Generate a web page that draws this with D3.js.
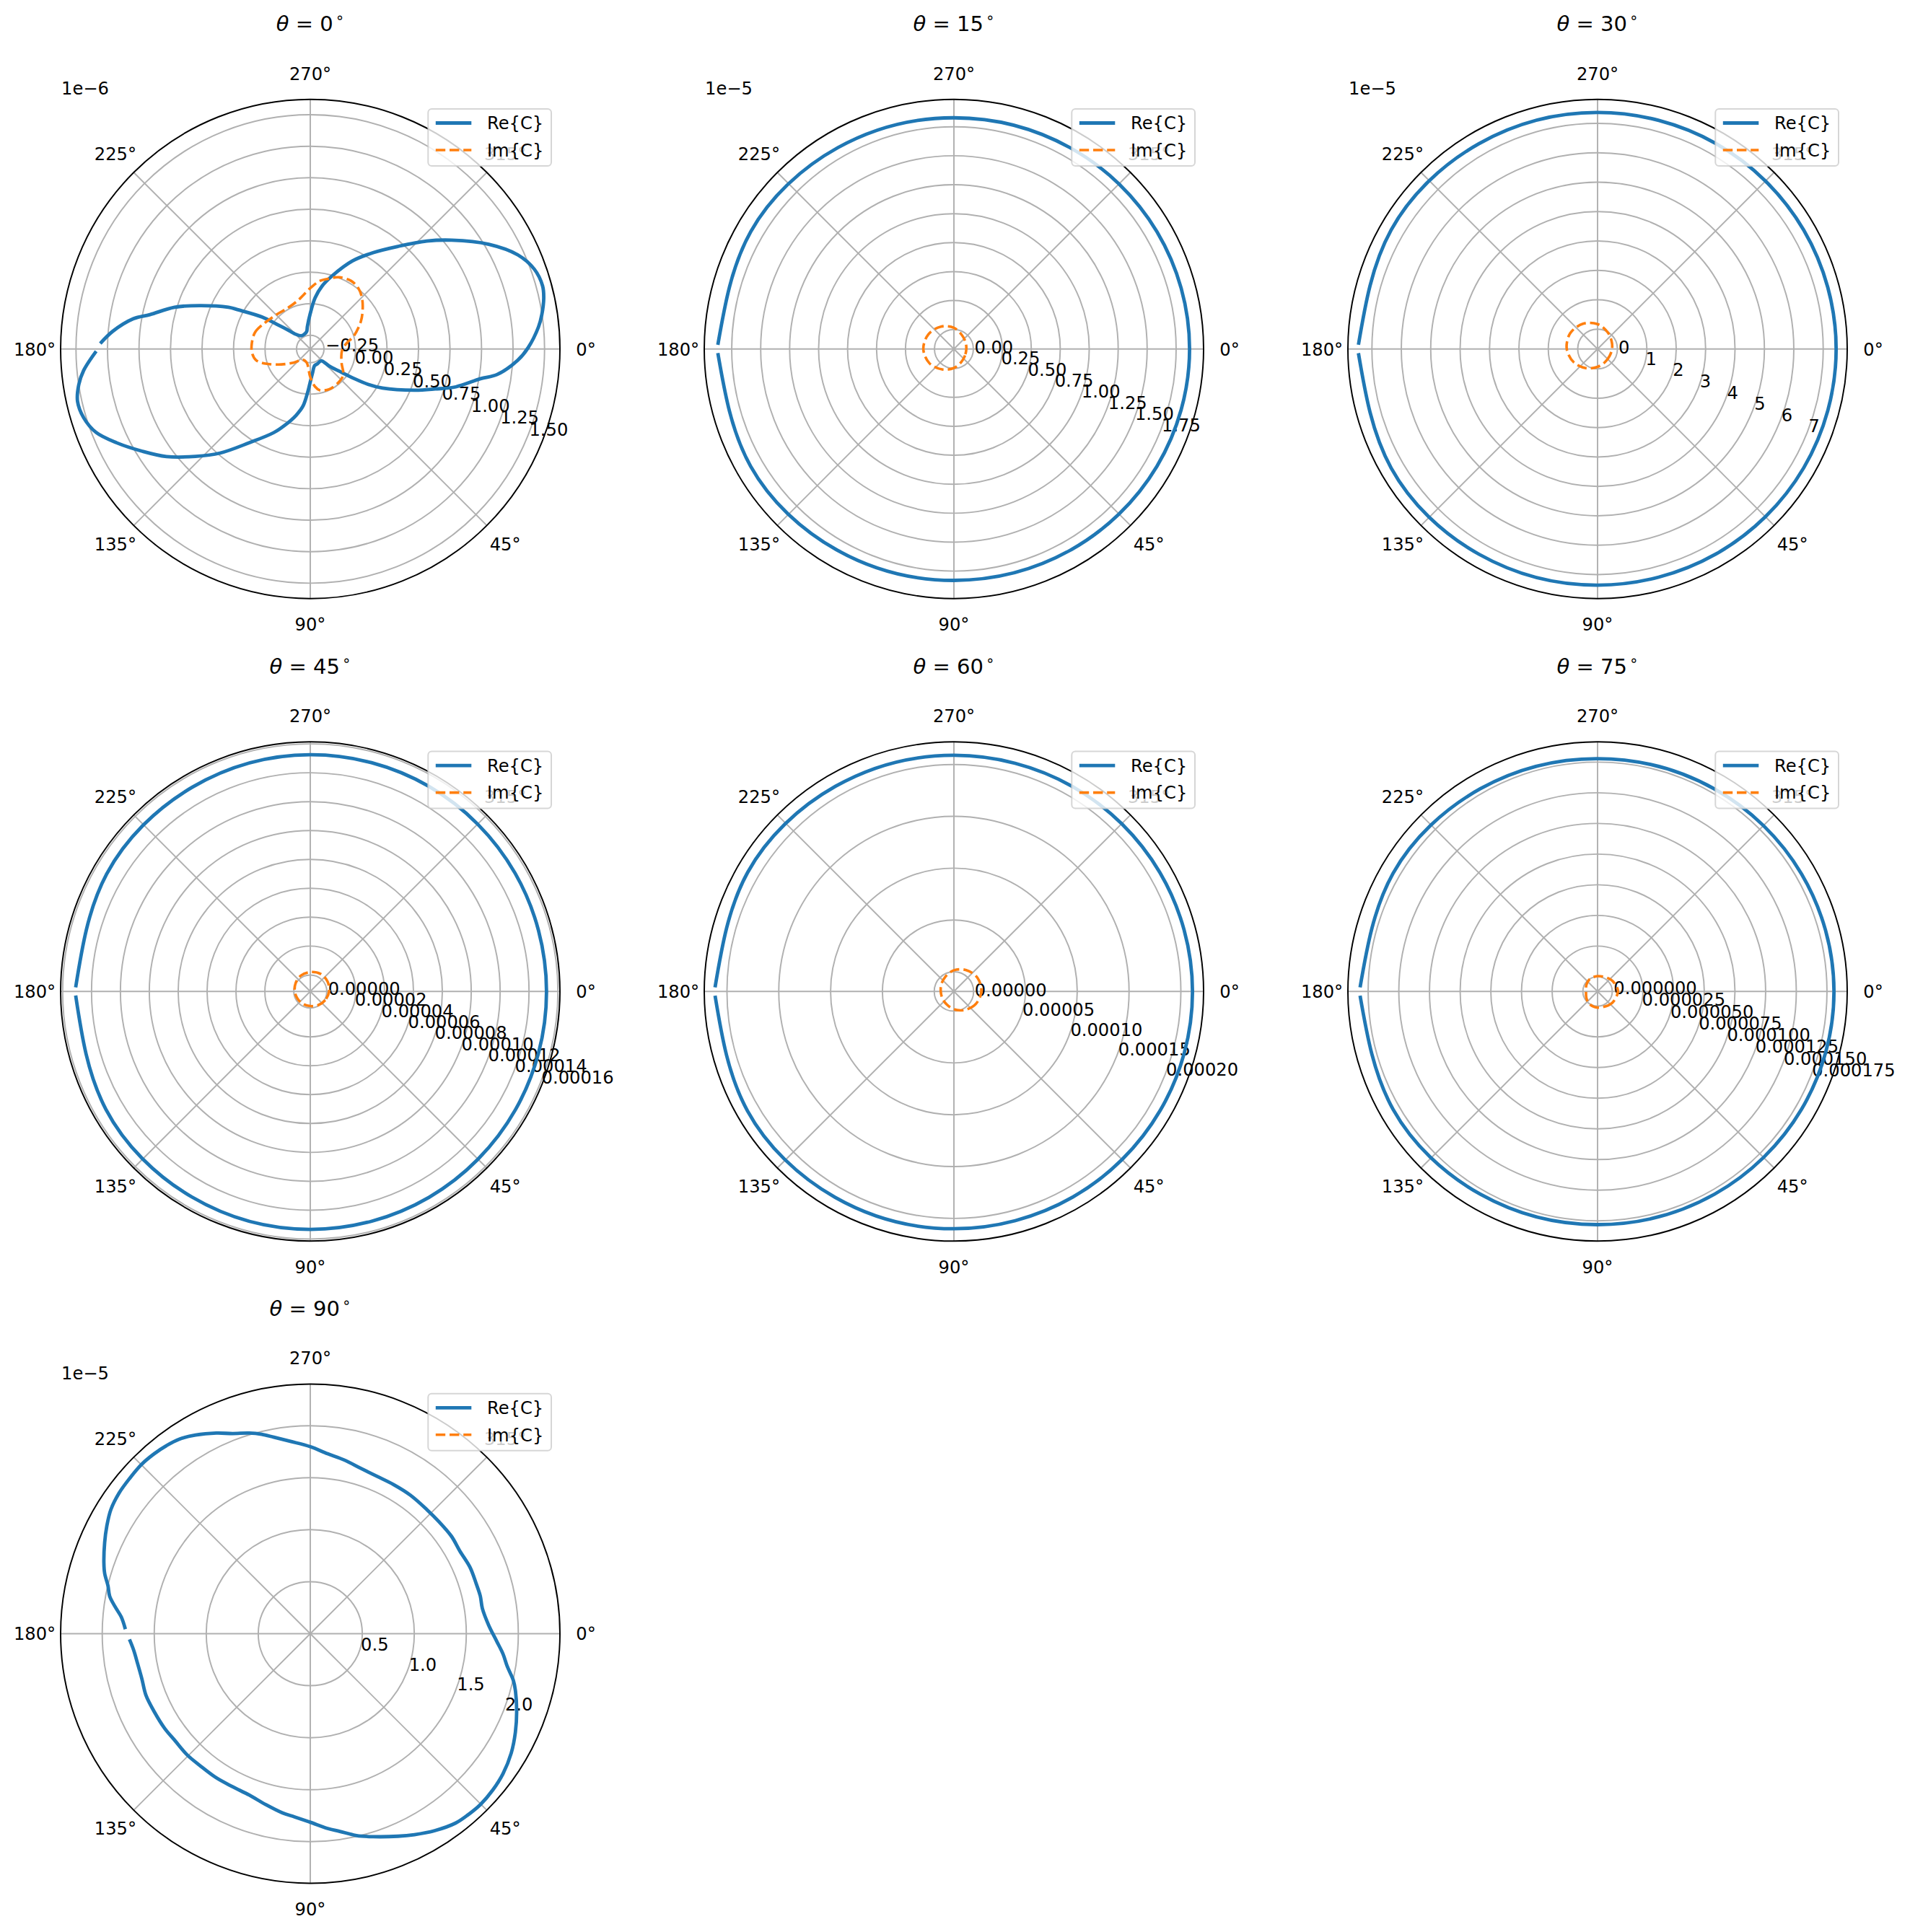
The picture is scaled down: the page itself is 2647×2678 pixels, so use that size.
<!DOCTYPE html>
<html>
<head>
<meta charset="utf-8">
<script src="https://cdn.jsdelivr.net/npm/d3@7"></script>
<style>
  body { margin: 0; background: #fff; }
  text { font-family: "DejaVu Sans", sans-serif; fill: #000; }
</style>
</head>
<body>
<svg id="chart"></svg>
<script>
// Panel titles (theta in degrees) and the offset text above each r axis
const thetas = ["0", "15", "30", "45", "60", "75", "90"];
const offsetTexts = ["1e\u22126", "1e\u22125", "1e\u22125", "", "", "", "1e\u22125"];

// r limits of each panel, in the units of its tick values
const rLimits = [
  [-0.359, 1.622], [-0.168, 1.987], [-0.676, 7.817],
  [-1.143, 16.14], [-1.90, 22.19], [-1.20, 19.15], [0, 2.40]
];

// r ticks and their labels
const rTicks = [
  [-0.25, 0, 0.25, 0.5, 0.75, 1.0, 1.25, 1.5],
  [0, 0.25, 0.5, 0.75, 1.0, 1.25, 1.5, 1.75],
  [0, 1, 2, 3, 4, 5, 6, 7],
  [0, 2, 4, 6, 8, 10, 12, 14, 16],
  [0, 5, 10, 15, 20],
  [0, 2.5, 5, 7.5, 10, 12.5, 15, 17.5],
  [0.5, 1.0, 1.5, 2.0]
];
const rTickLabels = [
  ["\u22120.25", "0.00", "0.25", "0.50", "0.75", "1.00", "1.25", "1.50"],
  ["0.00", "0.25", "0.50", "0.75", "1.00", "1.25", "1.50", "1.75"],
  ["0", "1", "2", "3", "4", "5", "6", "7"],
  ["0.00000", "0.00002", "0.00004", "0.00006", "0.00008", "0.00010", "0.00012", "0.00014", "0.00016"],
  ["0.00000", "0.00005", "0.00010", "0.00015", "0.00020"],
  ["0.000000", "0.000025", "0.000050", "0.000075", "0.000100", "0.000125", "0.000150", "0.000175"],
  ["0.5", "1.0", "1.5", "2.0"]
];

// theta ticks
const thetaTicks = [0, 45, 90, 135, 180, 225, 270, 315];
const thetaTickLabels = ["0\u00b0", "45\u00b0", "90\u00b0", "135\u00b0", "180\u00b0", "225\u00b0", "270\u00b0", "315\u00b0"];

// Re{C} traces, [angle deg, value]
const re0 = [[181.5,1.308],[185.1,1.215],[189.7,1.065],[192.1,0.942],[197.1,0.767],[201.4,0.585],[207.0,0.370],[208.5,0.293],[213.6,0.099],[215.8,-0.006],[219.7,-0.111],[225.5,-0.196],[235.4,-0.232],[247.7,-0.233],[258.4,-0.217],[262.6,-0.180],[270,-0.077],[275.4,0.049],[280.8,0.152],[286.5,0.244],[295.6,0.416],[303.1,0.553],[310.5,0.711],[317.2,0.901],[322.4,1.056],[329.6,1.283],[335.6,1.449],[340.4,1.528],[344.8,1.551],[347.7,1.537],[351.6,1.498],[354.5,1.460],[359.7,1.369],[3.1,1.290],[7.8,1.137],[9.9,1.013],[14.6,0.834],[17.8,0.681],[21.6,0.530],[28.4,0.292],[31.5,0.178],[34.1,0.056],[36.7,-0.049],[42.0,-0.154],[47.4,-0.232],[64.2,-0.228],[75.4,-0.223],[84.1,-0.173],[90,-0.098],[93.2,-0.021],[97.2,0.097],[102.2,0.182],[107.7,0.267],[113.5,0.364],[123.1,0.530],[130.9,0.734],[136.9,0.889],[143.2,1.066],[148.8,1.205],[154.1,1.347],[158.7,1.465],[163.1,1.520],[167.3,1.534],[171.2,1.500],[174.6,1.447],[179.4,1.340]];
const re1 = [[181,1.870],[210,1.857],[240,1.838],[270,1.828],[300,1.838],[330,1.856],[0,1.866],[30,1.856],[60,1.839],[90,1.830],[120,1.840],[150,1.858],[179,1.870]];
const re2 = [[181,7.46],[210,7.43],[240,7.39],[270,7.37],[300,7.39],[330,7.42],[0,7.44],[30,7.42],[60,7.38],[90,7.36],[120,7.39],[150,7.43],[179,7.46]];
const re3 = [[181,15.10],[210,15.13],[240,15.19],[270,15.25],[300,15.26],[330,15.23],[0,15.21],[30,15.25],[60,15.31],[90,15.33],[120,15.28],[150,15.19],[179,15.10]];
const re4 = [[181,21.15],[210,21.08],[240,20.96],[270,20.89],[300,20.95],[330,21.05],[0,21.12],[30,21.08],[60,21.02],[90,21.0],[120,21.04],[150,21.11],[179,21.15]];
const re5 = [[181,18.16],[210,18.05],[240,17.89],[270,17.78],[300,17.86],[330,17.99],[0,18.07],[30,18.0],[60,17.88],[90,17.81],[120,17.89],[150,18.04],[179,18.16]];
const re6 = [[181.4,1.778],[185.1,1.825],[187.9,1.895],[190.6,1.962],[193.3,1.998],[196.3,2.059],[198.9,2.097],[203.9,2.162],[207.9,2.213],[211.9,2.258],[216.4,2.282],[220.6,2.290],[225.2,2.298],[229.1,2.290],[232.6,2.276],[236.0,2.255],[240.0,2.205],[244.9,2.130],[248.8,2.064],[253.1,2.016],[256.3,1.973],[259.5,1.921],[264.1,1.859],[270,1.798],[275.5,1.738],[281.0,1.702],[286.9,1.663],[293.0,1.643],[299.2,1.642],[305.8,1.643],[313.1,1.637],[319.0,1.640],[325.4,1.649],[331.0,1.643],[337.4,1.663],[343.2,1.666],[347.5,1.674],[351.7,1.672],[357.2,1.716],[2.4,1.795],[6.0,1.863],[9.4,1.919],[13.0,2.004],[15.6,2.048],[20.7,2.121],[25.7,2.188],[30.7,2.247],[36.0,2.290],[40.6,2.310],[45.1,2.318],[49.0,2.309],[52.5,2.295],[57.7,2.240],[62.6,2.176],[66.6,2.122],[72.8,2.043],[77.1,1.991],[81.5,1.922],[84.9,1.880],[90,1.813],[94.9,1.768],[98.9,1.743],[104.6,1.698],[110.7,1.659],[116.9,1.650],[123.2,1.654],[130.0,1.653],[135.4,1.661],[141.7,1.658],[147.0,1.670],[153.4,1.677],[159.5,1.687],[165.0,1.676],[170.0,1.684],[174.8,1.706],[178.2,1.739]];

// Im{C} traces, [angle deg, value]
const im0 = [[185.4,0.107],[196.5,0.099],[209.6,0.058],[225.6,0.023],[242.5,0.013],[256.2,0.040],[262.3,0.070],[270,0.124],[278,0.186],[285.3,0.221],[291.9,0.254],[301,0.271],[308.3,0.256],[315.3,0.218],[323.2,0.160],[331.7,0.096],[343.6,0.0],[351.3,-0.069],[3.0,-0.107],[23.7,-0.088],[38,-0.027],[48.8,-0.012],[64.4,-0.006],[76.9,-0.022],[82.7,-0.057],[90,-0.136],[104.7,-0.247],[123.7,-0.256],[140.8,-0.187],[151.9,-0.099],[161,0.004],[168.2,0.080],[176,0.104]];
const im1 = [[0,-0.061],[30,-0.057],[60,-0.039],[90,-0.004],[120,0.036],[150,0.077],[180,0.096],[210,0.086],[240,0.055],[270,0.015],[300,-0.030],[330,-0.052]];
const im2 = [[0,-0.183],[30,-0.203],[60,-0.163],[90,-0.067],[120,0.081],[150,0.249],[180,0.372],[210,0.397],[240,0.314],[270,0.170],[300,-0.006],[330,-0.127]];
const im3 = [[0,0.159],[30,0.052],[60,-0.049],[90,-0.130],[120,-0.149],[150,-0.131],[180,-0.065],[210,0.026],[240,0.134],[270,0.200],[300,0.263],[330,0.237]];
const im4 = [[0,0.746],[30,0.528],[60,0.163],[90,-0.18],[120,-0.472],[150,-0.608],[180,-0.630],[210,-0.502],[240,-0.254],[270,0.15],[300,0.477],[330,0.727]];
const im5 = [[0,0.465],[38.7,0.306],[90,0.112],[124.5,0.012],[150,-0.147],[180,-0.259],[210,-0.147],[235,-0.018],[270,0.053],[318,0.247],[345,0.40]];
const im6 = [[0,0],[90,0],[180,0],[270,0]];

const reSeries = [re0, re1, re2, re3, re4, re5, re6];
const imSeries = [im0, im1, im2, im3, im4, im5, im6];

// Layout (pixels)
const W = 2647, H = 2678;
const R = 346;
const colX = [430, 1322, 2214];
const rowY = [483.7, 1374.3, 2264.5];
const tickFont = 24.2;
const rad = (deg) => deg * Math.PI / 180;

const svg = d3.select("#chart").attr("width", W).attr("height", H);
svg.append("rect").attr("width", W).attr("height", H).attr("fill", "#fff");

thetas.forEach((t, i) => {
  const cx = colX[i % 3], cy = rowY[Math.floor(i / 3)];
  const g = svg.append("g").attr("transform", `translate(${cx},${cy})`);
  const r = d3.scaleLinear().domain(rLimits[i]).range([0, R]);

  // Radial grid rings
  g.append("g")
    .selectAll("circle")
    .data(rTicks[i].filter((v) => r(v) > 0 && r(v) < R))
    .enter()
    .append("circle")
    .attr("r", (v) => r(v))
    .attr("fill", "none")
    .attr("stroke", "#b0b0b0")
    .attr("stroke-width", 1.94);

  // Angular grid lines
  g.append("g")
    .selectAll("line")
    .data(thetaTicks)
    .enter()
    .append("line")
    .attr("x1", 0).attr("y1", 0)
    .attr("x2", (a) => R * Math.cos(rad(a)))
    .attr("y2", (a) => R * Math.sin(rad(a)))
    .attr("stroke", "#b0b0b0")
    .attr("stroke-width", 1.94);

  // Theta tick labels
  g.append("g")
    .selectAll("text")
    .data(thetaTicks)
    .enter()
    .append("text")
    .attr("x", (a) => (R + 36) * Math.cos(rad(a)))
    .attr("y", (a) => (R + 36) * Math.sin(rad(a)) + 8.8)
    .attr("text-anchor", "middle")
    .attr("font-size", tickFont)
    .text((a, k) => thetaTickLabels[k]);

  // r tick labels along 22.5 deg
  const la = rad(22.5);
  g.append("g")
    .selectAll("text")
    .data(rTicks[i])
    .enter()
    .append("text")
    .attr("x", (v) => r(v) * Math.cos(la) + 3.5)
    .attr("y", (v) => r(v) * Math.sin(la) - 4)
    .attr("font-size", tickFont)
    .text((v, k) => rTickLabels[i][k]);

  // Data lines: sparse, near-circular traces get a natural spline
  const reCurve = reSeries[i].length < 20 ? d3.curveNatural : d3.curveCatmullRom.alpha(0.5);
  const lineOpen = d3.lineRadial()
    .angle((d) => rad(d[0] + 90))
    .radius((d) => r(d[1]))
    .curve(reCurve);
  const lineClosed = d3.lineRadial()
    .angle((d) => rad(d[0] + 90))
    .radius((d) => r(d[1]))
    .curve(d3.curveCatmullRomClosed.alpha(0.5));

  g.append("path")
    .attr("d", lineOpen(reSeries[i]))
    .attr("fill", "none")
    .attr("stroke", "#1f77b4")
    .attr("stroke-width", 4.8)
    .attr("stroke-linejoin", "round")
    .attr("stroke-linecap", "butt");

  g.append("path")
    .attr("d", lineClosed(imSeries[i]))
    .attr("fill", "none")
    .attr("stroke", "#ff7f0e")
    .attr("stroke-width", 3.6)
    .attr("stroke-dasharray", "13.4 5.8");

  // Outer spine
  g.append("circle")
    .attr("r", R)
    .attr("fill", "none")
    .attr("stroke", "#000")
    .attr("stroke-width", 1.94);

  // Offset text (1e-6 / 1e-5)
  if (offsetTexts[i]) {
    g.append("text")
      .attr("x", -R + 1)
      .attr("y", -R - 7)
      .attr("font-size", tickFont)
      .text(offsetTexts[i]);
  }

  // Title: theta = N degrees
  const title = g.append("text")
    .attr("x", 0)
    .attr("y", -R - 94.5)
    .attr("text-anchor", "middle")
    .attr("font-size", 29);
  title.append("tspan").attr("font-style", "italic").text("\u03b8");
  title.append("tspan").text(" = " + t);
  title.append("tspan").attr("font-size", 20).attr("dy", -12).attr("dx", 3).text("\u2218");

  // Legend, upper right
  const lw = 170.7, lh = 79;
  const leg = g.append("g").attr("transform", `translate(${R - 12 - lw},${-R + 13.3})`);
  leg.append("rect")
    .attr("width", lw).attr("height", lh)
    .attr("rx", 5)
    .attr("fill", "#fff").attr("fill-opacity", 0.8)
    .attr("stroke", "#ccc").attr("stroke-opacity", 0.8)
    .attr("stroke-width", 2);
  leg.append("line")
    .attr("x1", 10.5).attr("x2", 60).attr("y1", 19.5).attr("y2", 19.5)
    .attr("stroke", "#1f77b4").attr("stroke-width", 4.8);
  leg.append("line")
    .attr("x1", 10.5).attr("x2", 60).attr("y1", 57).attr("y2", 57)
    .attr("stroke", "#ff7f0e").attr("stroke-width", 3.6)
    .attr("stroke-dasharray", "13.4 5.8");
  leg.append("text").attr("x", 81.7).attr("y", 28.3).attr("font-size", tickFont).text("Re{C}");
  leg.append("text").attr("x", 81.7).attr("y", 65.8).attr("font-size", tickFont).text("Im{C}");
});
</script>
</body>
</html>
